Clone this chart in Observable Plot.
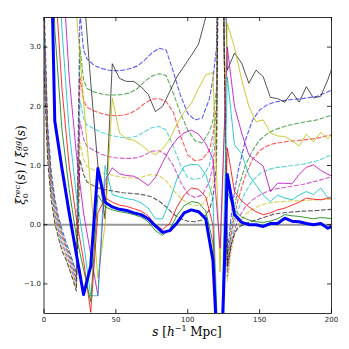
<!DOCTYPE html>
<html><head><meta charset="utf-8">
<script src="https://cdn.jsdelivr.net/npm/d3@7"></script>
<script src="https://cdn.jsdelivr.net/npm/@observablehq/plot@0.6"></script>
<style>body{margin:0;background:#fff}#chart{width:349px;height:349px}</style>
</head><body><div id="chart"></div>
<script>
// separation bins of the measured (solid) curves, h^-1 Mpc
const sBins = [2.5,7.5,12.5,17.5,22.5,27.5,32.5,37.5,42.5,47.5,52.5,57.5,62.5,67.5,72.5,77.5,82.5,87.5,92.5,97.5,102.5,107.5,112.5,117.5,122.5,127.5,132.5,137.5,142.5,147.5,152.5,157.5,162.5,167.5,172.5,177.5,182.5,187.5,192.5,197.5,202.5];
// measured ratios (solid lines), one per colour
const solidB = [7.5,1.75,0.95,0.2,-0.5,-1.18,-0.7,0.95,0.38,0.3,0.26,0.24,0.2,0.17,0.1,-0.02,-0.13,-0.1,0.03,0.2,0.25,0.22,0.1,-0.6,-3,0.85,0.17,0.04,0.0,0.0,-0.03,0.02,0.02,0.11,0.06,0.05,0.02,0.0,0.02,-0.06,0.0];
const solidG = [8,3.3,1.6,0.6,-0.2,-0.75,-1.3,0.5,0.3,0.25,0.22,0.2,0.17,0.13,0.05,-0.1,-0.18,-0.08,0.16,0.32,0.39,0.37,0.23,-0.3,-3,0.55,0.25,0.13,0.08,0.05,0.04,0.06,0.1,0.17,0.15,0.14,0.12,0.1,0.12,0.11,0.1];
const solidR = [9,4.2,2.3,1.0,0.1,-0.6,-1.48,0.2,0.45,0.38,0.33,0.31,0.27,0.23,0.15,0.0,-0.08,0.02,0.3,0.5,0.62,0.6,0.47,0.0,-3,1.3,0.56,0.4,0.3,0.22,0.17,0.2,0.25,0.28,0.33,0.38,0.45,0.43,0.42,0.45,0.44];
const solidC = [10,5.5,3.3,1.6,0.5,-0.3,-1.2,-1.2,1.0,0.51,0.47,0.44,0.42,0.37,0.28,0.1,0.1,0.4,0.78,0.98,1.02,1.01,0.85,0.45,-3,2.5,1.35,1.2,0.84,0.67,0.5,0.39,0.5,0.45,0.42,0.5,0.56,0.51,0.62,0.45,0.5];
const solidM = [11,7,4.5,2.5,1.2,0.2,-0.5,-1.2,0.75,0.96,0.86,0.83,0.82,0.75,0.66,0.8,1.05,1.28,1.45,1.55,1.6,1.53,1.37,1.12,-0.4,3.0,2.0,1.55,1.18,1.08,0.99,0.56,0.7,0.7,0.69,0.85,0.97,1.01,0.92,0.85,0.8];
const solidY = [12,9,6.5,5.0,3.6,2.1,0.6,-0.9,0.0,2.14,1.55,1.45,1.43,1.35,1.25,1.18,1.28,1.45,1.7,1.9,2.05,2.3,2.53,2.57,-0.8,3.4,3.0,2.45,2.0,1.74,1.77,1.55,1.5,1.49,1.42,1.33,1.53,1.4,1.56,1.45,1.6];
const solidK = [14,12,10,8,6,4.0,2.4,1.0,0.1,2.72,2.47,2.42,2.42,2.33,2.2,1.91,2.0,2.25,2.5,2.68,2.86,3.05,3.5,4.5,8,2.61,2.9,2.73,2.39,2.61,2.5,2.15,2.13,2.07,2.24,2.07,2.33,2.14,2.17,2.45,2.8];

// model curves (dashed lines)
const sModel = [0,2.5,5,7.5,10,12.5,15,17.5,20,22.5,25,27.5,30,35,40,45,50,55,60,65,70,75,80,85,90,95,100,105,110,115,117.5,120,122.5,127.5,130,132.5,135,140,145,150,155,160,170,180,190,200];
const dashB = [3.8,1.7,0.9,0.45,0.14,-0.08,-0.27,-0.44,-0.62,-0.82, 3.6,2.95,2.8, 2.69,2.64,2.61,2.6,2.61,2.64,2.68,2.78,2.9,2.98,2.95,2.58,2.18,1.88,1.77,1.8,2.12, 2.45,3.0,8, -0.5,0.1,0.55,0.9,1.42,1.76,1.94,2.02,2.07,2.11,2.13,2.17,2.27];
const dashG = [3.6,1.6,0.82,0.38,0.08,-0.14,-0.32,-0.49,-0.67,-0.87, 3.0,2.45,2.3, 2.24,2.21,2.19,2.19,2.2,2.23,2.3,2.42,2.51,2.55,2.52,2.22,1.88,1.6,1.42,1.38,1.57, 1.75,2.3,8, -0.6,-0.1,0.3,0.6,1.0,1.25,1.43,1.53,1.6,1.68,1.73,1.77,1.85];
const dashR = [3.4,1.5,0.74,0.31,0.02,-0.2,-0.37,-0.54,-0.72,-0.92, 2.5,2.1,1.98, 1.92,1.88,1.85,1.84,1.85,1.88,1.95,2.05,2.12,2.13,2.08,1.9,1.5,1.18,1.08,1.1,1.25, 1.52,2.0,8, -0.7,-0.2,0.15,0.42,0.82,1.1,1.25,1.33,1.37,1.41,1.43,1.46,1.52];
const dashC = [3.2,1.4,0.66,0.24,-0.04,-0.26,-0.42,-0.59,-0.77,-0.97, 2.1,1.8,1.68, 1.62,1.56,1.52,1.49,1.47,1.47,1.5,1.57,1.64,1.66,1.6,1.32,1.0,0.8,0.76,0.8,1.0, 1.3,1.9,8, -0.8,-0.3,0.02,0.25,0.55,0.74,0.86,0.92,0.96,0.99,1.02,1.08,1.18];
const dashM = [3.0,1.3,0.58,0.17,-0.1,-0.32,-0.47,-0.64,-0.82,-1.02, 1.75,1.45,1.32, 1.25,1.19,1.15,1.13,1.12,1.12,1.13,1.18,1.24,1.25,1.18,1.0,0.72,0.52,0.46,0.5,0.72, 1.0,1.6,8, -0.88,-0.4,-0.1,0.1,0.3,0.42,0.5,0.56,0.6,0.64,0.68,0.74,0.81];
const dashY = [2.8,1.2,0.5,0.1,-0.16,-0.38,-0.52,-0.69,-0.87,-1.07, 1.4,1.1,0.98, 0.92,0.88,0.85,0.82,0.8,0.79,0.79,0.82,0.85,0.83,0.74,0.58,0.45,0.36,0.32,0.34,0.5, 0.72,1.3,8, -0.96,-0.48,-0.18,0.0,0.17,0.26,0.32,0.36,0.38,0.4,0.41,0.42,0.43];
const dashK = [2.6,1.1,0.42,0.03,-0.22,-0.44,-0.57,-0.74,-0.92,-1.12, 1.1,0.85,0.72, 0.65,0.6,0.58,0.56,0.54,0.53,0.52,0.5,0.47,0.4,0.3,0.18,0.1,0.06,0.05,0.08,0.25, 0.45,1.0,8, -0.7,-0.35,-0.15,-0.05,0.02,0.06,0.1,0.14,0.18,0.21,0.23,0.24,0.26];

const xTicks = [0,50,100,150,200];
const yTicks = [-1,0,1,2,3];
const palette = {b:"#0000ff", g:"#008000", r:"#ff0000", c:"#00bfbf", m:"#bf00bf", y:"#bfbf00", k:"#000000"};

const toRows = (xs, ys) => xs.map((x, i) => ({x, y: ys[i]}));
const dashed = [["b",dashB],["g",dashG],["r",dashR],["c",dashC],["m",dashM],["y",dashY],["k",dashK]];
const solids = [["k",solidK],["y",solidY],["m",solidM],["c",solidC],["r",solidR],["g",solidG]];

const W = 349, H = 349, mL = 43.5, mR = 18, mT = 17, mB = 36;
const frameW = W - mL - mR, frameH = H - mT - mB;

const marks = [
  Plot.ruleY([0], {stroke: "#999", strokeWidth: 2})
];
for (const [k, ys] of dashed) {
  marks.push(Plot.line(toRows(sModel, ys), {x: "x", y: "y", stroke: palette[k], strokeWidth: 1.1, strokeOpacity: 0.65, strokeDasharray: "4,2.5", clip: true}));
}
for (const [k, ys] of solids) {
  marks.push(Plot.line(toRows(sBins, ys), {x: "x", y: "y", stroke: palette[k], strokeWidth: 0.9, strokeOpacity: k === "k" ? 0.75 : 0.9, clip: true}));
}
marks.push(Plot.line(toRows(sBins, solidB), {x: "x", y: "y", stroke: palette.b, strokeWidth: 3, clip: true}));
marks.push(Plot.frame({stroke: "#000", strokeWidth: 0.8}));
// inward ticks on all four sides
marks.push(Plot.tickX(xTicks, {x: d => d, insetTop: frameH - 4, stroke: "#000", strokeWidth: 0.8}));
marks.push(Plot.tickX(xTicks, {x: d => d, insetBottom: frameH - 4, stroke: "#000", strokeWidth: 0.8}));
marks.push(Plot.tickY(yTicks, {y: d => d, insetRight: frameW - 4, stroke: "#000", strokeWidth: 0.8}));
marks.push(Plot.tickY(yTicks, {y: d => d, insetLeft: frameW - 4, stroke: "#000", strokeWidth: 0.8}));
marks.push(Plot.axisX(xTicks, {tickSize: 0, tickPadding: 4, label: null, fill: "#222"}));
marks.push(Plot.axisY(yTicks, {tickSize: 0, tickPadding: 3, label: null, fill: "#222"}));

const svg = Plot.plot({
  width: W, height: H,
  marginLeft: mL, marginRight: mR, marginTop: mT, marginBottom: mB,
  style: {fontFamily: "DejaVu Sans", fontSize: "7px", background: "#fff"},
  x: {domain: [0, 200]},
  y: {domain: [-1.5, 3.5]},
  marks
});
document.getElementById("chart").appendChild(svg);

const sel = d3.select(svg);
// y label
const yl = sel.append("text")
  .attr("transform", "translate(25,165) rotate(-90)")
  .attr("text-anchor", "middle")
  .attr("font-family", "DejaVu Serif")
  .attr("font-size", 12)
  .attr("fill", "#000");
yl.append("tspan").attr("font-style", "italic").text("ξ");
yl.append("tspan").attr("font-size", 8).attr("dy", 3).text("0");
yl.append("tspan").attr("font-size", 8).attr("dx", -5).attr("dy", -8).attr("font-style", "italic").text("rec");
yl.append("tspan").attr("dy", 5).text("(");
yl.append("tspan").attr("font-style", "italic").text("s");
yl.append("tspan").text(") / ");
yl.append("tspan").attr("font-style", "italic").text("ξ");
yl.append("tspan").attr("font-size", 8).attr("dy", 3).text("0");
yl.append("tspan").attr("font-size", 8).attr("dx", -5).attr("dy", -8).attr("font-style", "italic").text("gg");
yl.append("tspan").attr("dy", 5).text("(");
yl.append("tspan").attr("font-style", "italic").text("s");
yl.append("tspan").text(")");

// x label
const xl = sel.append("text")
  .attr("x", 187).attr("y", 336)
  .attr("text-anchor", "middle")
  .attr("font-family", "DejaVu Serif")
  .attr("font-size", 12)
  .attr("fill", "#000");
xl.append("tspan").attr("font-style", "italic").text("s");
xl.append("tspan").text(" [");
xl.append("tspan").attr("font-style", "italic").text("h");
xl.append("tspan").attr("font-size", 8).attr("dy", -5).text("−1");
xl.append("tspan").attr("dy", 5).text(" Mpc]");
</script></body></html>
